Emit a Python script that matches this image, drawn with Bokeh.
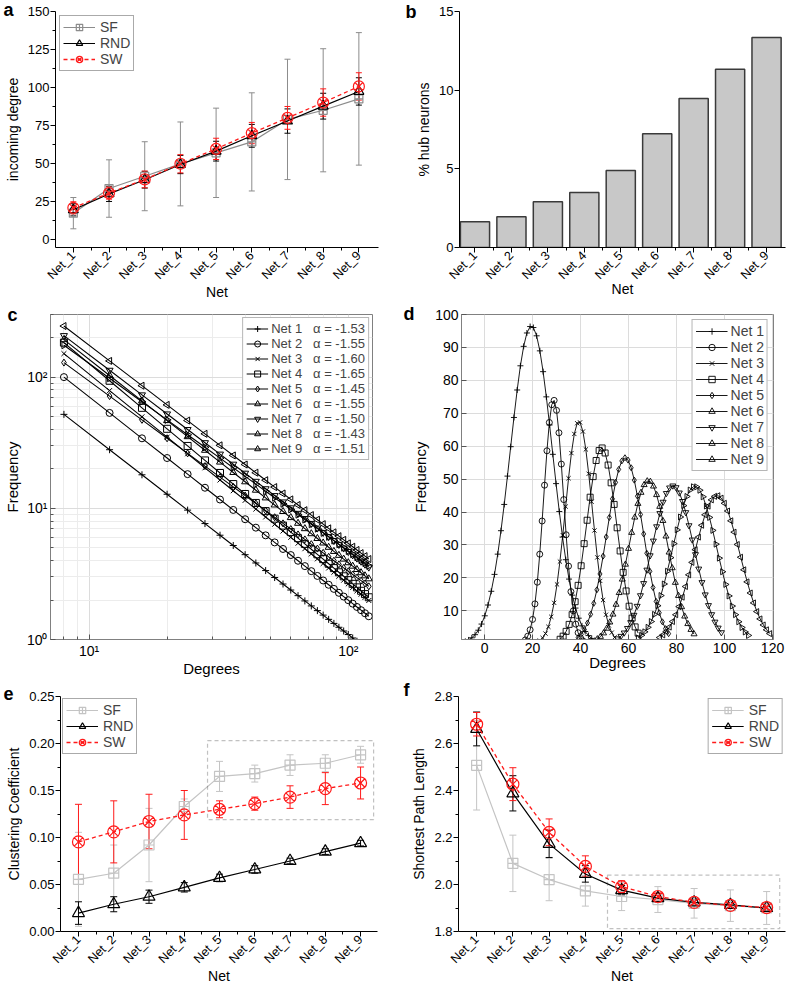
import math
from bokeh.plotting import figure
from bokeh.layouts import row, column
from bokeh.models import (ColumnDataSource, Whisker, TeeHead, Legend, LegendItem, FixedTicker,
                          CustomJSTickFormatter, PrintfTickFormatter, Range1d, BoxAnnotation)
from bokeh.embed import file_html
from bokeh.resources import INLINE

FONT = "Liberation Sans"

# ---------------- data ----------------
net_ids = [1, 2, 3, 4, 5, 6, 7, 8, 9]

# (a) incoming degree
a_sf = [17.3, 33.5, 41.6, 49.7, 57.0, 64.2, 79.0, 85.0, 92.5]
a_sf_err = [10.3, 18.9, 22.7, 27.6, 29.4, 32.3, 39.6, 40.5, 43.6]
a_rnd = [19.5, 30.0, 39.3, 49.3, 58.1, 68.2, 77.9, 87.7, 97.4]
a_rnd_err = [4.0, 5.0, 5.5, 6.0, 6.5, 7.5, 8.0, 8.5, 9.0]
a_sw = [20.8, 30.5, 39.5, 49.8, 59.6, 70.0, 80.0, 90.1, 100.7]
a_sw_err = [4.0, 4.0, 5.5, 6.0, 7.0, 7.0, 7.5, 9.0, 9.0]

# (b) % hub neurons
b_hub = [1.64, 1.95, 2.90, 3.50, 4.89, 7.23, 9.47, 11.33, 13.34]

# (c) power-law degree distributions (fitted lines, alpha from legend)
c_names = ["Net 1", "Net 2", "Net 3", "Net 4", "Net 5", "Net 6", "Net 7", "Net 8", "Net 9"]
c_degrees = [8, 12, 16, 20, 24, 28, 32, 36, 40, 44, 48, 52, 56, 60, 64, 68, 72, 76, 80,
             84, 88, 92, 96, 100, 104, 108, 112, 116, 120]
c_alpha = [-1.53, -1.55, -1.60, -1.65, -1.45, -1.55, -1.50, -1.43, -1.51]
c_freq_at_8 = [52, 100, 151, 183, 129, 193, 207, 175, 245]

# (d) degree distributions of random nets (fitted bell curves)
d_names = c_names
d_center = [19.5, 28.8, 39.3, 48.8, 58.6, 68.3, 78.5, 87.6, 96.9]
d_peak = [96.5, 74.0, 67.5, 59.5, 56.5, 49.5, 48.0, 47.8, 45.0]
d_sigma = [8.8, 4.1, 5.6, 6.3, 7.5, 8.0, 8.8, 9.2, 9.5]
d_start = [-8, 17, 23, 31.5, 39, 47, 55.5, 64, 73]
d_end = [46, 41, 55, 65, 77, 88, 100, 111, 120]
d_step = [1.35, 1.0, 1.2, 1.25, 1.3, 1.3, 1.35, 1.35, 1.35]

# (e) clustering coefficient
e_sf = [0.0555, 0.062, 0.092, 0.133, 0.165, 0.168, 0.177, 0.179, 0.188]
e_sf_err = [0.050, 0.030, 0.039, 0.008, 0.016, 0.009, 0.011, 0.009, 0.009]
e_rnd = [0.0196, 0.029, 0.037, 0.047, 0.057, 0.066, 0.075, 0.085, 0.094]
e_rnd_err = [0.012, 0.008, 0.007, 0.005, 0.004, 0.004, 0.003, 0.003, 0.003]
e_sw = [0.0953, 0.106, 0.117, 0.124, 0.130, 0.136, 0.143, 0.152, 0.158]
e_sw_err = [0.040, 0.033, 0.029, 0.026, 0.009, 0.007, 0.012, 0.017, 0.017]

# (f) shortest path length
f_sf = [2.507, 2.090, 2.021, 1.973, 1.949, 1.936, 1.920, 1.910, 1.900]
f_sf_err = [0.19, 0.12, 0.09, 0.065, 0.06, 0.055, 0.063, 0.067, 0.07]
f_rnd = [2.662, 2.388, 2.173, 2.045, 1.976, 1.942, 1.924, 1.913, 1.900]
f_rnd_err = [0.072, 0.075, 0.058, 0.035, 0.02, 0.015, 0.01, 0.01, 0.008]
f_sw = [2.682, 2.427, 2.222, 2.077, 1.991, 1.949, 1.924, 1.911, 1.902]
f_sw_err = [0.05, 0.07, 0.057, 0.045, 0.025, 0.015, 0.01, 0.01, 0.01]

series_names = ["SF", "RND", "SW"]
panel_letters = ["a", "b", "c", "d", "e", "f"]


# ---------------- helpers ----------------
def base_fig(width, height, xr, yr, left, right, top, bottom, **kw):
    p = figure(width=width, height=height, x_range=Range1d(*xr), y_range=Range1d(*yr),
               output_backend="svg", toolbar_location=None,
               min_border_left=left, min_border_right=right,
               min_border_top=top, min_border_bottom=bottom, **kw)
    p.background_fill_color = "white"
    p.border_fill_color = "white"
    return p


def panel_letter(p, txt, offset, standoff):
    t = p.title
    t.text = txt
    t.align = "left"
    t.vertical_align = "bottom"
    t.offset = offset
    t.standoff = standoff
    t.text_font = FONT
    t.text_font_size = "18px"
    t.text_font_style = "bold"
    t.text_color = "black"


def style_axis(ax, tick_size="13px", label_size="14px"):
    ax.major_label_text_font = FONT
    ax.major_label_text_font_size = tick_size
    ax.major_label_text_color = "black"
    ax.axis_label_text_font = FONT
    ax.axis_label_text_font_size = label_size
    ax.axis_label_text_font_style = "normal"
    ax.axis_label_text_color = "black"


def origin_axes(p, yticks, yminor, yfmt, ylabel, xlabel_standoff=-6):
    p.outline_line_color = None
    p.xgrid.visible = False
    p.ygrid.visible = False
    xa = p.xaxis[0]
    ya = p.yaxis[0]
    xa.ticker = FixedTicker(ticks=net_ids, minor_ticks=[i + 0.5 for i in range(1, 9)])
    xa.formatter = CustomJSTickFormatter(code="return 'Net_' + Math.round(tick);")
    xa.major_label_orientation = math.pi / 4
    xa.axis_label = "Net"
    ya.ticker = FixedTicker(ticks=yticks, minor_ticks=yminor)
    if yfmt is not None:
        ya.formatter = yfmt
    ya.axis_label = ylabel
    style_axis(xa, tick_size="12.5px")
    style_axis(ya)
    for ax in (xa, ya):
        ax.axis_line_color = "black"
        ax.axis_line_width = 1
        ax.major_tick_line_color = "black"
        ax.minor_tick_line_color = "black"
        ax.major_tick_in = 0
        ax.major_tick_out = 5
        ax.minor_tick_in = 0
        ax.minor_tick_out = 3
        ax.major_label_standoff = 1
    xa.axis_label_standoff = xlabel_standoff
    ya.axis_label_standoff = 4


def origin_series(p, y, err, color, marker, size, dash, lw, cap):
    src = ColumnDataSource(dict(x=net_ids, y=y,
                                up=[v + e for v, e in zip(y, err)],
                                lo=[v - e for v, e in zip(y, err)]))
    p.add_layout(Whisker(source=src, base="x", upper="up", lower="lo",
                         line_color=color, line_width=1,
                         upper_head=TeeHead(size=cap, line_color=color, line_width=1),
                         lower_head=TeeHead(size=cap, line_color=color, line_width=1)))
    ln = p.line("x", "y", source=src, line_color=color, line_width=lw, line_dash=dash)
    mk = p.scatter("x", "y", source=src, marker=marker, size=size, line_color=color,
                   fill_color=None, line_width=1.2)
    return [ln, mk]


def origin_legend(p, items, loc, margin):
    lg = Legend(items=items, location=loc)
    lg.label_text_font = FONT
    lg.label_text_font_size = "14px"
    lg.glyph_width = 32
    lg.glyph_height = 16
    lg.label_height = 16
    lg.spacing = 0
    lg.padding = 3
    lg.margin = margin
    lg.label_standoff = 5
    lg.border_line_color = "#555555"
    lg.border_line_width = 1
    lg.background_fill_color = "white"
    lg.background_fill_alpha = 1
    p.add_layout(lg)


def matlab_axes(p, xlabel, ylabel):
    p.outline_line_color = "#808080"
    p.outline_line_width = 1
    for ax in (p.xaxis[0], p.yaxis[0]):
        style_axis(ax, tick_size="14px", label_size="15px")
        ax.axis_line_color = "#808080"
        ax.major_tick_line_color = "#555555"
        ax.minor_tick_line_color = "#555555"
        ax.major_tick_in = 5
        ax.major_tick_out = 0
        ax.minor_tick_in = 3
        ax.minor_tick_out = 0
        ax.major_label_standoff = 3
    p.xaxis[0].axis_label_standoff = -2
    p.yaxis[0].axis_label_standoff = 3
    p.xaxis[0].axis_label = xlabel
    p.yaxis[0].axis_label = ylabel
    for g in (p.xgrid[0], p.ygrid[0]):
        g.grid_line_color = "#dcdcdc"
        g.grid_line_width = 1


def matlab_legend(p, items, glyph_w, row_h, font, margin):
    lg = Legend(items=items, location="top_right")
    lg.label_text_font = FONT
    lg.label_text_font_size = font
    lg.glyph_width = glyph_w
    lg.glyph_height = row_h
    lg.label_height = row_h
    lg.spacing = 0
    lg.padding = 3
    lg.margin = margin
    lg.label_standoff = 3
    lg.border_line_color = "#6e6e6e"
    lg.border_line_width = 1
    lg.background_fill_color = "white"
    lg.background_fill_alpha = 1
    p.add_layout(lg)


# ---------------- panel a ----------------
pa = base_fig(393, 304, (0.5, 9.55), (-5.3, 150), 55, 15, 11, 57)
origin_axes(pa, [0, 25, 50, 75, 100, 125, 150], [12.5, 37.5, 62.5, 87.5, 112.5, 137.5],
            None, "incoming degree")
ra_sf = origin_series(pa, a_sf, a_sf_err, "#8c8c8c", "square_cross", 8, "solid", 1.2, 6)
ra_rnd = origin_series(pa, a_rnd, a_rnd_err, "black", "triangle", 10, "solid", 1.2, 6)
ra_sw = origin_series(pa, a_sw, a_sw_err, "#ff1a1a", "circle_x", 11, "4 3", 1.3, 6)
origin_legend(pa, [LegendItem(label=series_names[0], renderers=ra_sf),
                   LegendItem(label=series_names[1], renderers=ra_rnd),
                   LegendItem(label=series_names[2], renderers=ra_sw)], "top_left", 4)
panel_letter(pa, panel_letters[0], -52, -17)

# ---------------- panel b ----------------
pb = base_fig(394, 304, (0.575, 9.52), (0, 15), 66, 2, 11, 52)
origin_axes(pb, [0, 5, 10, 15], [], None, "% hub neurons", xlabel_standoff=-9)
pb.vbar(x=net_ids, top=b_hub, width=0.8, bottom=0, fill_color="#c8c8c8",
        line_color="#3a3a3a", line_width=1.5)
panel_letter(pb, panel_letters[1], -54, -20)

# ---------------- panel c ----------------
pc = base_fig(393, 375, (7.1, 124), (1, 300), 48, 21, 10, 39,
              x_axis_type="log", y_axis_type="log")
matlab_axes(pc, "Degrees", "Frequency")
sup = CustomJSTickFormatter(code="""
const s = {"0": "\u2070", "1": "\u00b9", "2": "\u00b2", "3": "\u00b3", "-": "\u207b"};
const e = Math.round(Math.log10(tick));
return "10" + String(e).split("").map(c => s[c]).join("");
""")
pc.xaxis[0].ticker = FixedTicker(ticks=[10, 100], minor_ticks=[7, 8, 9, 20, 30, 40, 50, 60, 70, 80, 90])
pc.yaxis[0].ticker = FixedTicker(ticks=[1, 10, 100],
                                 minor_ticks=[2, 3, 4, 5, 6, 7, 8, 9, 20, 30, 40, 50, 60, 70, 80, 90, 200, 300])
pc.xaxis[0].formatter = sup
pc.yaxis[0].formatter = sup
pc.xgrid[0].ticker = pc.xaxis[0].ticker
pc.ygrid[0].ticker = pc.yaxis[0].ticker
for g in (pc.xgrid[0], pc.ygrid[0]):
    g.minor_grid_line_color = "#ececec"
    g.minor_grid_line_width = 1

c_markers = ["cross", "circle", "x", "square", "diamond", "triangle", "inverted_triangle",
             "triangle", "triangle"]
c_angles = [0, 0, 0, 0, 0, 0, 0, -math.pi / 2, math.pi / 2]
c_items = []
for i in range(9):
    ys = [c_freq_at_8[i] * (d / 8.0) ** c_alpha[i] for d in c_degrees]
    src = ColumnDataSource(dict(x=c_degrees, y=ys))
    ln = pc.line("x", "y", source=src, line_color="black", line_width=1.1)
    mk = pc.scatter("x", "y", source=src, marker=c_markers[i], angle=c_angles[i], size=7,
                    line_color="black", fill_color=None, line_width=1)
    label = c_names[i] + "\u00a0\u00a0\u00a0\u03b1 = " + ("%.2f" % c_alpha[i])
    c_items.append(LegendItem(label=label, renderers=[ln, mk]))
matlab_legend(pc, c_items, 22, 15, "13px", 3)
panel_letter(pc, panel_letters[2], -43, -21)

# ---------------- panel d ----------------
pd_ = base_fig(394, 375, (-9.6, 120.4), (1.3, 100), 68, 14, 8, 38)
matlab_axes(pd_, "Degrees", "Frequency")
pd_.xaxis[0].ticker = FixedTicker(ticks=[0, 20, 40, 60, 80, 100, 120])
pd_.yaxis[0].ticker = FixedTicker(ticks=[10, 20, 30, 40, 50, 60, 70, 80, 90, 100])
pd_.xgrid[0].ticker = pd_.xaxis[0].ticker
pd_.ygrid[0].ticker = pd_.yaxis[0].ticker
d_items = []
for i in range(9):
    xs = []
    v = d_start[i]
    while v <= d_end[i] + 1e-9:
        xs.append(v)
        v += d_step[i]
    ys = [d_peak[i] * math.exp(-((x - d_center[i]) ** 2) / (2 * d_sigma[i] ** 2)) for x in xs]
    src = ColumnDataSource(dict(x=xs, y=ys))
    ln = pd_.line("x", "y", source=src, line_color="black", line_width=0.9)
    mk = pd_.scatter("x", "y", source=src, marker=c_markers[i], angle=c_angles[i], size=6,
                     line_color="black", fill_color=None, line_width=0.9)
    d_items.append(LegendItem(label=d_names[i], renderers=[ln, mk]))
matlab_legend(pd_, d_items, 32, 16, "14px", 5)
panel_letter(pd_, panel_letters[3], -58, -18)

# ---------------- panel e ----------------
pe = base_fig(393, 315, (0.49, 9.48), (0, 0.25), 60, 16, 17, 63)
origin_axes(pe, [0, 0.05, 0.10, 0.15, 0.20, 0.25], [0.025, 0.075, 0.125, 0.175, 0.225],
            PrintfTickFormatter(format="%.2f"), "Clustering Coefficient")
re_sf = origin_series(pe, e_sf, e_sf_err, "#c4c4c4", "square_cross", 10, "solid", 1.2, 7)
re_rnd = origin_series(pe, e_rnd, e_rnd_err, "black", "triangle", 12, "solid", 1.2, 7)
re_sw = origin_series(pe, e_sw, e_sw_err, "#ff1a1a", "circle_x", 12, "4 3", 1.3, 7)
pe.add_layout(BoxAnnotation(left=4.66, right=9.37, bottom=0.119, top=0.203, fill_alpha=0,
                            line_color="#333333", line_dash="4 3", line_width=1.2))
origin_legend(pe, [LegendItem(label=series_names[0], renderers=re_sf),
                   LegendItem(label=series_names[1], renderers=re_rnd),
                   LegendItem(label=series_names[2], renderers=re_sw)], "top_left", 2)
panel_letter(pe, panel_letters[4], -57, -7)

# ---------------- panel f ----------------
pf = base_fig(394, 315, (0.5, 9.52), (1.8, 2.8), 65, 2, 17, 57)
origin_axes(pf, [1.8, 2.0, 2.2, 2.4, 2.6, 2.8], [1.9, 2.1, 2.3, 2.5, 2.7],
            PrintfTickFormatter(format="%.1f"), "Shortest Path Length")
rf_sf = origin_series(pf, f_sf, f_sf_err, "#c4c4c4", "square_cross", 10, "solid", 1.2, 7)
rf_rnd = origin_series(pf, f_rnd, f_rnd_err, "black", "triangle", 12, "solid", 1.2, 7)
rf_sw = origin_series(pf, f_sw, f_sw_err, "#ff1a1a", "circle_x", 12, "4 3", 1.3, 7)
pf.add_layout(BoxAnnotation(left=4.61, right=9.36, bottom=1.812, top=2.04, fill_alpha=0,
                            line_color="#333333", line_dash="4 3", line_width=1.2))
origin_legend(pf, [LegendItem(label=series_names[0], renderers=rf_sf),
                   LegendItem(label=series_names[1], renderers=rf_rnd),
                   LegendItem(label=series_names[2], renderers=rf_sw)], "top_right", 2)
panel_letter(pf, panel_letters[5], -55, -7)

layout = column(row(pa, pb), row(pc, pd_), row(pe, pf))
open("out.html", "w").write(file_html(layout, INLINE))
